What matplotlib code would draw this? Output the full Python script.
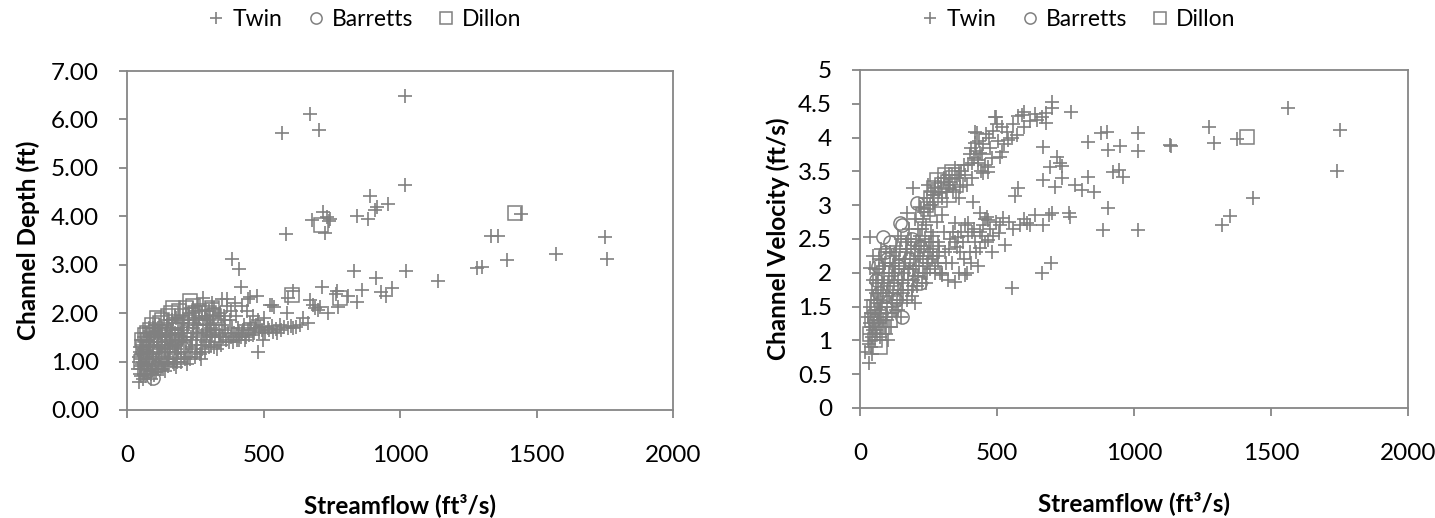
import matplotlib
matplotlib.use("Agg")
import matplotlib.pyplot as plt
from matplotlib.lines import Line2D
from matplotlib.ticker import FuncFormatter

plt.rcParams['font.family'] = ['Lato', 'DejaVu Sans']

# ---- left panel: streamflow (ft3/s) vs channel depth (ft) ----
twin_depth = [
    # upper outliers
    (1020, 6.48), (670, 6.11), (568, 5.72), (703, 5.78),
    (1020, 4.65), (890, 4.42), (956, 4.25), (916, 4.19), (908, 4.13), (883, 3.95), (842, 4.00),
    (718, 4.09), (678, 3.92), (725, 3.66), (744, 3.94), (733, 3.98), (740, 3.90), (582, 3.63),
    (385, 3.12), (410, 2.91), (418, 2.54),
    # lower band, high flows
    (1022, 2.87), (1333, 3.59), (1359, 3.59), (1392, 3.10), (1282, 2.93), (1300, 2.96), (1139, 2.66),
    (1443, 4.05), (1571, 3.22), (1751, 3.57), (1758, 3.12),
    (831, 2.87), (912, 2.72), (970, 2.52), (930, 2.44), (949, 2.35), (861, 2.48), (842, 2.23),
    (810, 2.35), (769, 2.46), (765, 2.40), (714, 2.54), (608, 2.46), (590, 2.31), (670, 2.27),
    (680, 2.17), (690, 2.10), (700, 2.07), (707, 2.12), (736, 2.00), (773, 2.13), (645, 1.90),
    (663, 1.80), (531, 2.17), (540, 2.13), (586, 2.00),
    (487, 1.71), (500, 1.72), (515, 1.70), (530, 1.73), (545, 1.68), (560, 1.75), (575, 1.72),
    (590, 1.70), (600, 1.74), (608, 1.69), (498, 1.45), (476, 2.35), (451, 2.33), (443, 2.30),
    (348, 2.30), (480, 1.20), (524, 2.17), (366, 2.29), (278, 2.31),
    (420, 2.15), (440, 2.05), (400, 1.95), (460, 1.95), (480, 1.85), (500, 1.90),
    # dense low-flow cluster
    (45, 0.58), (48, 0.75), (50, 0.90), (52, 1.05), (47, 1.20), (55, 1.35), (58, 0.65), (60, 1.00),
    (62, 1.15), (50, 1.45), (70, 0.70), (72, 0.85), (75, 1.00), (78, 1.20), (80, 1.40), (85, 1.55),
    (88, 0.75), (90, 1.10), (82, 1.30), (74, 1.60), (100, 0.72), (104, 0.90), (108, 1.05), (112, 1.20),
    (115, 1.40), (118, 1.60), (122, 1.75), (126, 0.85), (128, 1.30), (130, 1.50), (140, 0.80),
    (144, 0.95), (148, 1.10), (152, 1.25), (156, 1.45), (160, 1.65), (164, 1.85), (168, 1.00),
    (170, 1.35), (145, 1.55), (180, 0.88), (184, 1.05), (188, 1.20), (192, 1.40), (196, 1.60),
    (200, 1.80), (205, 1.95), (208, 1.10), (210, 1.50), (186, 1.70), (220, 0.95), (225, 1.10),
    (230, 1.30), (235, 1.50), (240, 1.70), (245, 1.90), (250, 2.05), (255, 1.20), (258, 1.60),
    (228, 1.85), (270, 1.05), (276, 1.25), (282, 1.45), (288, 1.65), (294, 1.85), (300, 2.05),
    (306, 1.35), (312, 1.55), (318, 1.75), (330, 1.25), (336, 1.40), (342, 1.55), (348, 1.75),
    (355, 1.95), (362, 1.45), (370, 1.60), (376, 1.85), (365, 2.15), (390, 1.40), (398, 1.55),
    (405, 1.70), (412, 1.45), (420, 1.60), (428, 1.75), (436, 1.50), (444, 1.65), (452, 1.80),
    (460, 1.55), (468, 1.70),
    (42, 0.85), (44, 1.10), (46, 1.30), (53, 0.70), (56, 0.95), (57, 1.25), (43, 1.00), (51, 1.15),
    (63, 0.75), (66, 0.90), (68, 1.05), (71, 1.30), (73, 1.45), (77, 0.80), (79, 0.95), (83, 1.15),
    (86, 1.35), (89, 1.50), (64, 1.50), (69, 1.60), (81, 1.70), (87, 0.65),
    (92, 0.80), (95, 0.95), (97, 1.25), (99, 1.40), (101, 1.60), (103, 1.75), (106, 0.78),
    (109, 1.30), (111, 1.50), (114, 0.85), (117, 1.00), (119, 1.15), (121, 1.35), (124, 1.55),
    (127, 1.70), (129, 1.00), (113, 1.70), (96, 1.70),
    (133, 0.85), (136, 1.00), (138, 1.20), (141, 1.40), (143, 1.60), (146, 1.75), (149, 1.85),
    (151, 0.90), (154, 1.05), (157, 1.20), (159, 1.35), (162, 1.50), (166, 1.70), (169, 1.80),
    (172, 0.95), (175, 1.15), (177, 1.30), (179, 1.45), (174, 1.60), (178, 1.90),
    (182, 1.00), (185, 1.35), (189, 1.55), (193, 1.80), (197, 1.00), (199, 1.25), (202, 1.45),
    (204, 1.65), (207, 1.85), (212, 1.05), (215, 1.20), (217, 1.40), (219, 1.60), (222, 1.75),
    (226, 2.00), (232, 1.05), (237, 1.25), (239, 1.45), (242, 1.60), (244, 1.80),
    (248, 1.10), (252, 1.35), (256, 1.50), (261, 1.75), (265, 1.95), (268, 1.15), (272, 1.35),
    (275, 1.55), (279, 1.75), (284, 1.95), (286, 1.20), (290, 1.40), (293, 1.60), (297, 1.75),
    (299, 1.30), (303, 1.50), (308, 1.70), (314, 1.90), (320, 1.30), (324, 1.50), (327, 1.65),
    (333, 1.95), (338, 1.60), (345, 1.35), (352, 1.50), (358, 1.65), (360, 1.85),
    (372, 1.40), (380, 1.50), (385, 1.70), (392, 1.60), (402, 1.45), (410, 1.60), (418, 1.50),
    (425, 1.65), (432, 1.45), (447, 1.55), (456, 1.70), (465, 1.60), (472, 1.75), (485, 1.62),
    (495, 1.65), (505, 1.60), (520, 1.65), (535, 1.62), (550, 1.60), (565, 1.65), (620, 1.72),
    (635, 1.75), (320, 2.10), (340, 2.00), (380, 2.05), (395, 2.20), (310, 2.20), (260, 2.15),
    (240, 2.10),
]
barretts_depth = [
    (95, 0.66), (70, 0.80), (110, 0.90), (130, 1.10), (160, 1.20), (200, 1.30), (90, 1.00),
    (150, 1.50), (180, 1.70), (60, 1.20), (120, 1.40), (220, 1.60),
]
dillon_depth = [
    (55, 1.45), (60, 1.30), (75, 1.60), (90, 1.75), (110, 1.90), (130, 1.85), (150, 1.95),
    (168, 2.10), (200, 1.95), (231, 2.25), (250, 2.00), (278, 1.92), (290, 1.90), (311, 2.10),
    (330, 1.80), (280, 1.75), (50, 1.00), (70, 1.10), (100, 1.20), (140, 1.40), (180, 1.50),
    (65, 1.55), (85, 1.65), (120, 1.80), (160, 2.00), (190, 2.05), (215, 2.10), (240, 2.15),
    (265, 2.05), (300, 2.00), (320, 1.95),
    (604, 2.37), (780, 2.31), (712, 3.83), (1421, 4.07),
]

# ---- right panel: streamflow (ft3/s) vs channel velocity (ft/s) ----
twin_velocity = [
    # low-flow cluster
    (32, 0.66), (20, 0.83), (40, 0.90), (45, 1.05), (42, 1.20), (48, 1.35), (38, 1.50), (50, 1.60),
    (37, 2.07), (37, 2.53), (29, 1.35), (55, 1.00), (60, 1.15), (65, 1.30), (68, 1.45), (72, 1.60),
    (75, 1.75), (80, 1.90), (62, 2.00), (85, 2.10), (70, 1.25), (90, 1.20), (95, 1.35), (100, 1.50),
    (105, 1.65), (110, 1.80), (115, 1.95), (120, 2.10), (125, 2.25), (130, 2.40), (102, 1.00),
    (140, 1.45), (145, 1.60), (150, 1.75), (155, 1.90), (160, 2.05), (165, 2.20), (170, 2.35),
    (175, 2.50), (180, 2.65), (148, 1.35), (190, 1.65), (195, 1.80), (200, 1.95), (205, 2.10),
    (210, 2.25), (215, 2.40), (220, 2.55), (225, 2.65), (200, 1.55), (230, 2.00), (240, 1.85),
    (245, 2.00), (250, 2.15), (255, 2.30), (260, 2.45), (265, 2.55), (272, 2.10), (280, 2.25),
    (290, 2.40), (300, 2.00),
    (33, 0.95), (35, 1.10), (36, 1.25), (39, 1.40), (41, 1.60), (43, 1.75), (46, 1.90), (44, 0.80),
    (47, 1.15), (52, 1.25), (54, 1.45), (57, 1.70), (58, 1.85), (53, 2.05), (49, 2.25),
    (61, 1.35), (63, 1.55), (66, 1.70), (67, 1.90), (69, 2.05), (71, 2.20), (74, 1.05), (77, 1.20),
    (78, 1.40), (82, 1.55), (84, 1.70), (87, 1.85), (89, 2.00), (92, 2.15), (94, 2.30), (96, 1.10),
    (98, 1.30), (99, 1.70), (76, 2.35),
    (103, 1.85), (106, 2.00), (108, 2.15), (111, 2.30), (113, 1.20), (116, 1.40), (118, 1.55),
    (121, 1.70), (123, 1.85), (126, 2.00), (128, 2.15), (131, 2.30), (133, 1.45), (135, 1.60),
    (137, 1.75), (139, 1.90), (142, 2.05), (144, 2.20), (147, 2.35), (149, 2.50), (138, 2.55),
    (152, 1.55), (156, 1.70), (158, 1.85), (161, 2.00), (163, 2.15), (167, 2.30), (169, 2.45),
    (172, 1.60), (174, 1.75), (177, 1.90), (179, 2.05), (182, 2.20), (185, 2.35), (187, 2.50),
    (189, 1.75), (192, 1.90), (194, 2.05), (197, 2.20), (199, 2.35),
    (203, 2.45), (207, 1.80), (211, 1.95), (214, 2.10), (218, 2.25), (222, 2.40), (226, 1.85),
    (229, 2.20), (233, 2.35), (236, 2.50), (238, 2.00), (243, 2.15), (248, 2.30), (252, 2.45),
    (257, 2.05), (262, 2.20), (268, 2.35), (275, 2.00), (283, 2.15), (288, 2.30),
    # upper branch
    (193, 3.25), (219, 2.97), (172, 2.88), (248, 3.30), (285, 3.33), (340, 3.22), (365, 3.27),
    (320, 3.30), (412, 3.05), (347, 2.73), (394, 2.73), (438, 2.88), (420, 4.08), (420, 3.92),
    (438, 3.77), (410, 3.62), (430, 3.67), (467, 3.57), (449, 3.47), (467, 3.49), (427, 4.07),
    (431, 3.62), (493, 4.30), (500, 4.20), (537, 4.08), (555, 4.00), (573, 4.04), (540, 3.96),
    (518, 3.79), (511, 3.71), (496, 4.30), (599, 4.38), (591, 4.33), (577, 4.32), (701, 4.53),
    (701, 4.44), (770, 4.38), (679, 4.36), (664, 4.30), (646, 4.26), (679, 4.21), (668, 3.86),
    (719, 3.71), (730, 3.62), (694, 3.57), (737, 3.58), (737, 3.40), (668, 3.37), (712, 3.27),
    (230, 2.80), (250, 2.95), (270, 3.05), (300, 3.10), (260, 3.20), (330, 3.35), (360, 3.45),
    (380, 3.60), (400, 3.75), (450, 3.90), (470, 4.00), (520, 4.15), (560, 4.20), (620, 4.25),
    (640, 4.35), (600, 4.15), (480, 3.70), (440, 3.50), (410, 3.40), (390, 3.30), (360, 3.10),
    (200, 2.80), (210, 2.65),
    (235, 2.90), (245, 3.10), (255, 3.00), (265, 3.15), (275, 3.25), (290, 3.20), (305, 3.40),
    (315, 3.20), (325, 3.45), (345, 3.55), (355, 3.40), (370, 3.50), (385, 3.45), (395, 3.60),
    (405, 3.85), (415, 3.70), (425, 3.80), (435, 3.95), (445, 3.75), (455, 3.60), (460, 4.05),
    (475, 3.85), (485, 4.10), (505, 3.95), (525, 3.90),
    # scattered high flows
    (832, 3.93), (880, 4.07), (901, 4.08), (905, 3.82), (949, 3.88), (1015, 4.07), (1015, 3.80),
    (1132, 3.89), (832, 3.42), (785, 3.30), (810, 3.22), (854, 3.20), (923, 3.49), (945, 3.52),
    (960, 3.42), (905, 2.96), (887, 2.63), (1015, 2.63), (577, 3.25), (566, 3.14), (701, 2.88),
    (690, 2.85), (763, 2.88), (765, 2.82), (668, 2.70), (584, 2.70), (610, 2.73), (522, 2.81),
    (467, 2.78), (455, 2.80), (507, 2.59), (467, 2.49), (529, 2.41), (455, 2.45), (697, 2.14),
    (664, 2.00), (555, 1.78), (1562, 4.44), (1752, 4.11), (1741, 3.51), (1274, 4.16),
    (1292, 3.92), (1135, 3.88), (1376, 3.98), (1435, 3.11), (1350, 2.84), (1321, 2.71),
    # lower branch
    (347, 1.86), (383, 1.97), (299, 1.97), (358, 2.53), (409, 2.60), (438, 2.60), (463, 2.83),
    (354, 2.38), (336, 2.14), (292, 2.00), (390, 2.00), (438, 2.37), (400, 2.30), (310, 2.30),
    (330, 2.50), (370, 2.60), (420, 2.45), (380, 2.20), (260, 2.60), (240, 2.70), (280, 2.75),
    (300, 2.85),
    (265, 2.25), (285, 2.45), (305, 2.60), (315, 2.15), (325, 2.35), (340, 2.60), (345, 2.45),
    (365, 2.30), (375, 2.45), (385, 2.70), (395, 2.55), (405, 2.15), (415, 2.65), (425, 2.30),
    (445, 2.55), (450, 2.70), (475, 2.65), (485, 2.55), (495, 2.75), (510, 2.70), (545, 2.75),
    (560, 2.65), (600, 2.80), (620, 2.70), (640, 2.85), (480, 2.30), (430, 2.10), (360, 2.00),
    (320, 1.90),
]
barretts_velocity = [
    (84, 2.53), (91, 2.31), (153, 2.71), (208, 3.03), (219, 1.85), (153, 1.35), (146, 2.73),
    (60, 1.90), (70, 1.70), (100, 2.20), (120, 1.80), (180, 2.20), (220, 2.40), (75, 1.40),
    (50, 1.30), (130, 1.60), (110, 2.45), (65, 2.10), (140, 2.10), (170, 2.00), (90, 1.50),
    (190, 2.50),
]
dillon_velocity = [
    (336, 3.49), (340, 3.40), (350, 3.30), (320, 3.35), (300, 3.30), (281, 3.37), (292, 3.08),
    (260, 3.10), (240, 3.00), (230, 2.85), (37, 1.10), (73, 0.90), (60, 1.20), (50, 1.50),
    (90, 1.60), (110, 1.30), (150, 2.00), (45, 1.30), (55, 1.00), (80, 1.20), (100, 1.45),
    (270, 3.25), (310, 3.45), (325, 3.15), (250, 2.95), (1413, 4.01),
]

series_names = ['Twin', 'Barretts', 'Dillon']
gray = '#808080'
axis_gray = '#868686'
marker_kw = {
    'Twin': dict(marker='+', markersize=9.5, markeredgewidth=1.2),
    'Barretts': dict(marker='o', markersize=9.5, markeredgewidth=1.1, markerfacecolor='none'),
    'Dillon': dict(marker='s', markersize=10, markeredgewidth=1.1, markerfacecolor='none'),
}

fig = plt.figure(figsize=(14.35, 5.18), dpi=100)
ax1 = fig.add_axes([0.0885, 0.2085, 0.3805, 0.6544])
ax2 = fig.add_axes([0.5993, 0.2124, 0.3819, 0.6525])


def draw(ax, data):
    for name, pts in zip(series_names, data):
        xs = [p[0] for p in pts]
        ys = [p[1] for p in pts]
        ax.plot(xs, ys, linestyle='none', color=gray, markeredgecolor=gray, **marker_kw[name])


draw(ax1, [twin_depth, barretts_depth, dillon_depth])
draw(ax2, [twin_velocity, barretts_velocity, dillon_velocity])

fs = 17.5
for ax in (ax1, ax2):
    ax.set_xlim(0, 2000)
    ax.set_xticks([0, 500, 1000, 1500, 2000])
    for s in ax.spines.values():
        s.set_color(axis_gray)
        s.set_linewidth(1.3)
    ax.tick_params(direction='out', length=6, width=1.3, color=axis_gray,
                   labelsize=fs, labelcolor='black')
    ax.tick_params(axis='x', pad=19)
    ax.tick_params(axis='y', pad=14)
    ax.set_xlabel('Streamflow (ft³/s)', fontsize=fs, fontweight='bold')
    ax.xaxis.set_label_coords(0.5, -0.245)

ax1.set_ylim(0, 7)
ax1.set_yticks(range(8))
ax1.yaxis.set_major_formatter(FuncFormatter(lambda v, p: f'{v:.2f}'))
ax1.set_ylabel('Channel Depth (ft)', fontsize=fs, fontweight='bold')
ax1.yaxis.set_label_coords(-0.16, 0.5)

ax2.set_ylim(0, 5)
ax2.set_yticks([i * 0.5 for i in range(11)])
ax2.yaxis.set_major_formatter(FuncFormatter(lambda v, p: f'{v:g}'))
ax2.set_ylabel('Channel Velocity (ft/s)', fontsize=fs, fontweight='bold')
ax2.yaxis.set_label_coords(-0.128, 0.5)

handles = [Line2D([], [], linestyle='none', color=gray, markeredgecolor=gray, **marker_kw[n])
           for n in series_names]
for cx in (0.2544, 0.752):
    fig.legend(handles, series_names, loc='center', bbox_to_anchor=(cx, 0.963), ncol=3,
               frameon=False, fontsize=16.5, handlelength=0.7, handletextpad=0.35,
               columnspacing=1.1, markerscale=0.85)

fig.savefig('out.png', dpi=100)
